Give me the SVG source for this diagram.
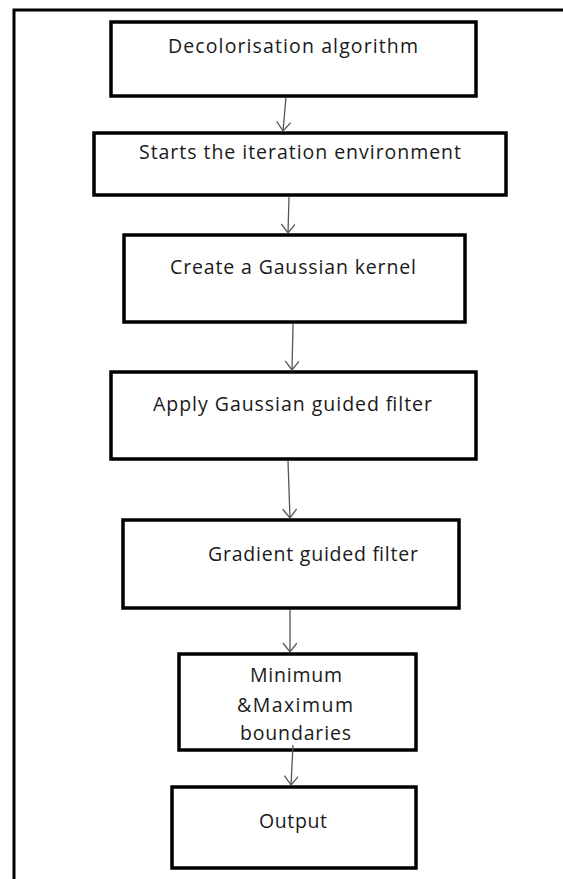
<svg xmlns="http://www.w3.org/2000/svg" width="563" height="879" viewBox="0 0 563 879">
<defs>
<style>
.box{fill:#fff;stroke:#000;stroke-width:3.5}
.frame{fill:none;stroke:#000;stroke-width:3}
.lbl{font-family:"Open Sans","Liberation Sans",Arial,sans-serif;font-size:19.5px;fill:#1a1a1a}
.conn{fill:none;stroke:#555;stroke-width:1.3}
</style>
<marker id="arr" markerWidth="16" markerHeight="16" refX="10" refY="7" orient="auto" markerUnits="userSpaceOnUse">
<path d="M1,0 L10,7 L1,14" fill="none" stroke="#555" stroke-width="1.3"/>
</marker>
</defs>
<rect width="563" height="879" fill="#fff"/>
<path class="frame" d="M14,879 V10 H563"/>
<g id="n1"><rect class="box" x="111" y="22" width="365" height="74"/><text class="lbl" x="168" y="53" textLength="250" lengthAdjust="spacing">Decolorisation algorithm</text></g>
<g id="n2"><rect class="box" x="94" y="133" width="412" height="62"/><text class="lbl" x="139" y="159" textLength="322" lengthAdjust="spacing">Starts the iteration environment</text></g>
<g id="n3"><rect class="box" x="124" y="235" width="341" height="87"/><text class="lbl" x="170" y="274" textLength="246" lengthAdjust="spacing">Create a Gaussian kernel</text></g>
<g id="n4"><rect class="box" x="111" y="372" width="365" height="87"/><text class="lbl" x="153" y="411" textLength="279" lengthAdjust="spacing">Apply Gaussian guided filter</text></g>
<g id="n5"><rect class="box" x="123" y="520" width="336" height="88"/><text class="lbl" x="208" y="561" textLength="210" lengthAdjust="spacing">Gradient guided filter</text></g>
<g id="n6"><rect class="box" x="179" y="654" width="237" height="96"/>
<text class="lbl" x="250" y="682" textLength="92" lengthAdjust="spacing">Minimum</text>
<text class="lbl" x="237" y="712" textLength="116" lengthAdjust="spacing">&amp;Maximum</text>
<text class="lbl" x="240" y="740" textLength="111" lengthAdjust="spacing">boundaries</text></g>
<g id="n7"><rect class="box" x="172" y="787" width="244" height="81"/><text class="lbl" x="259" y="828" textLength="68" lengthAdjust="spacing">Output</text></g>
<g id="connectors">
<line class="conn" x1="286" y1="97" x2="283" y2="131" marker-end="url(#arr)"/>
<line class="conn" x1="289" y1="197" x2="288" y2="233" marker-end="url(#arr)"/>
<line class="conn" x1="293" y1="324" x2="292" y2="370" marker-end="url(#arr)"/>
<line class="conn" x1="288" y1="461" x2="290" y2="518" marker-end="url(#arr)"/>
<line class="conn" x1="290" y1="610" x2="290" y2="652" marker-end="url(#arr)"/>
<line class="conn" x1="293" y1="745" x2="291" y2="785" marker-end="url(#arr)"/>
</g>
</svg>
